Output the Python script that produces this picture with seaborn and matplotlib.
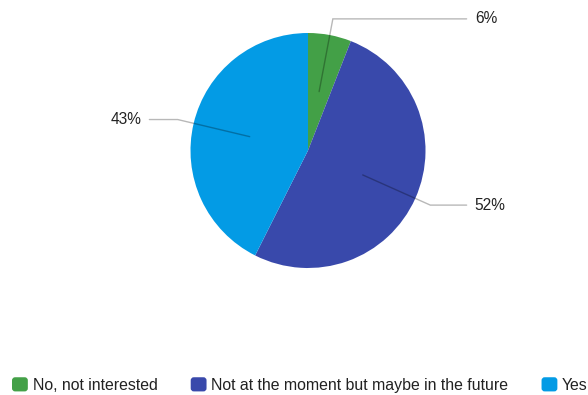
import numpy as np
import matplotlib
matplotlib.use("Agg")
import matplotlib.pyplot as plt
import seaborn as sns
from matplotlib.legend_handler import HandlerPatch
from matplotlib.patches import FancyBboxPatch, Patch

# Survey answers and their shares (percent)
categories = ["No, not interested", "Not at the moment but maybe in the future", "Yes"]
shares = [6, 52, 43]
colors = ["#43a047", "#3949ab", "#039be5"]

sns.set_theme(style="white")
plt.rcParams["font.family"] = ["Liberation Sans", "DejaVu Sans"]

W, H = 588, 395
fig = plt.figure(figsize=(W / 100, H / 100), dpi=100)
cx, cy, r = 308, 150.5, 117.5
ax = fig.add_axes([(cx - r) / W, (H - cy - r) / H, 2 * r / W, 2 * r / H])

wedges, _ = ax.pie(shares, colors=colors, startangle=90, counterclock=False,
                   radius=1.0, wedgeprops=dict(linewidth=0))
ax.set_xlim(-1, 1)
ax.set_ylim(-1, 1)
ax.set_aspect("equal")
ax.axis("off")

# Leader lines and percentage labels
fr = np.array(shares, dtype=float) / sum(shares)
starts = np.concatenate([[0], np.cumsum(fr)[:-1]])
for s, f, val in zip(starts, fr, shares):
    ang = 2 * np.pi * (s + f / 2)          # clockwise from top
    dx, dy = np.sin(ang), np.cos(ang)
    p0 = (0.51 * dx, 0.51 * dy)
    p1 = (1.14 * dx, 1.14 * dy)
    side = 1 if dx >= 0 else -1
    p2 = (1.35 * side, p1[1])
    ax.plot([p0[0], p1[0], p2[0]], [p0[1], p1[1], p2[1]], color="black",
            alpha=0.28, lw=1, clip_on=False, solid_joinstyle="miter")
    ax.text(1.42 * side, p1[1], f"{val}%", ha="left" if side > 0 else "right",
            va="center", fontsize=11.2, color="#222222", clip_on=False)


class RoundBox(HandlerPatch):
    def create_artists(self, legend, orig_handle, xdescent, ydescent,
                       width, height, fontsize, trans):
        box = FancyBboxPatch((-xdescent, -ydescent), width, height,
                             boxstyle=f"round,pad=0,rounding_size={height * 0.22}",
                             facecolor=orig_handle.get_facecolor(),
                             edgecolor="none", transform=trans)
        return [box]


handles = [Patch(facecolor=c, label=l) for c, l in zip(colors, categories)]
fig.legend(handles=handles, loc="center left",
           bbox_to_anchor=(12 / W, (H - 385) / H), ncol=3, frameon=False,
           fontsize=11.4, handlelength=1.0, handleheight=1.0,
           handletextpad=0.3, columnspacing=2.1, borderpad=0,
           borderaxespad=0, labelcolor="#222222",
           handler_map={Patch: RoundBox()})

fig.savefig("out.png", dpi=100)
